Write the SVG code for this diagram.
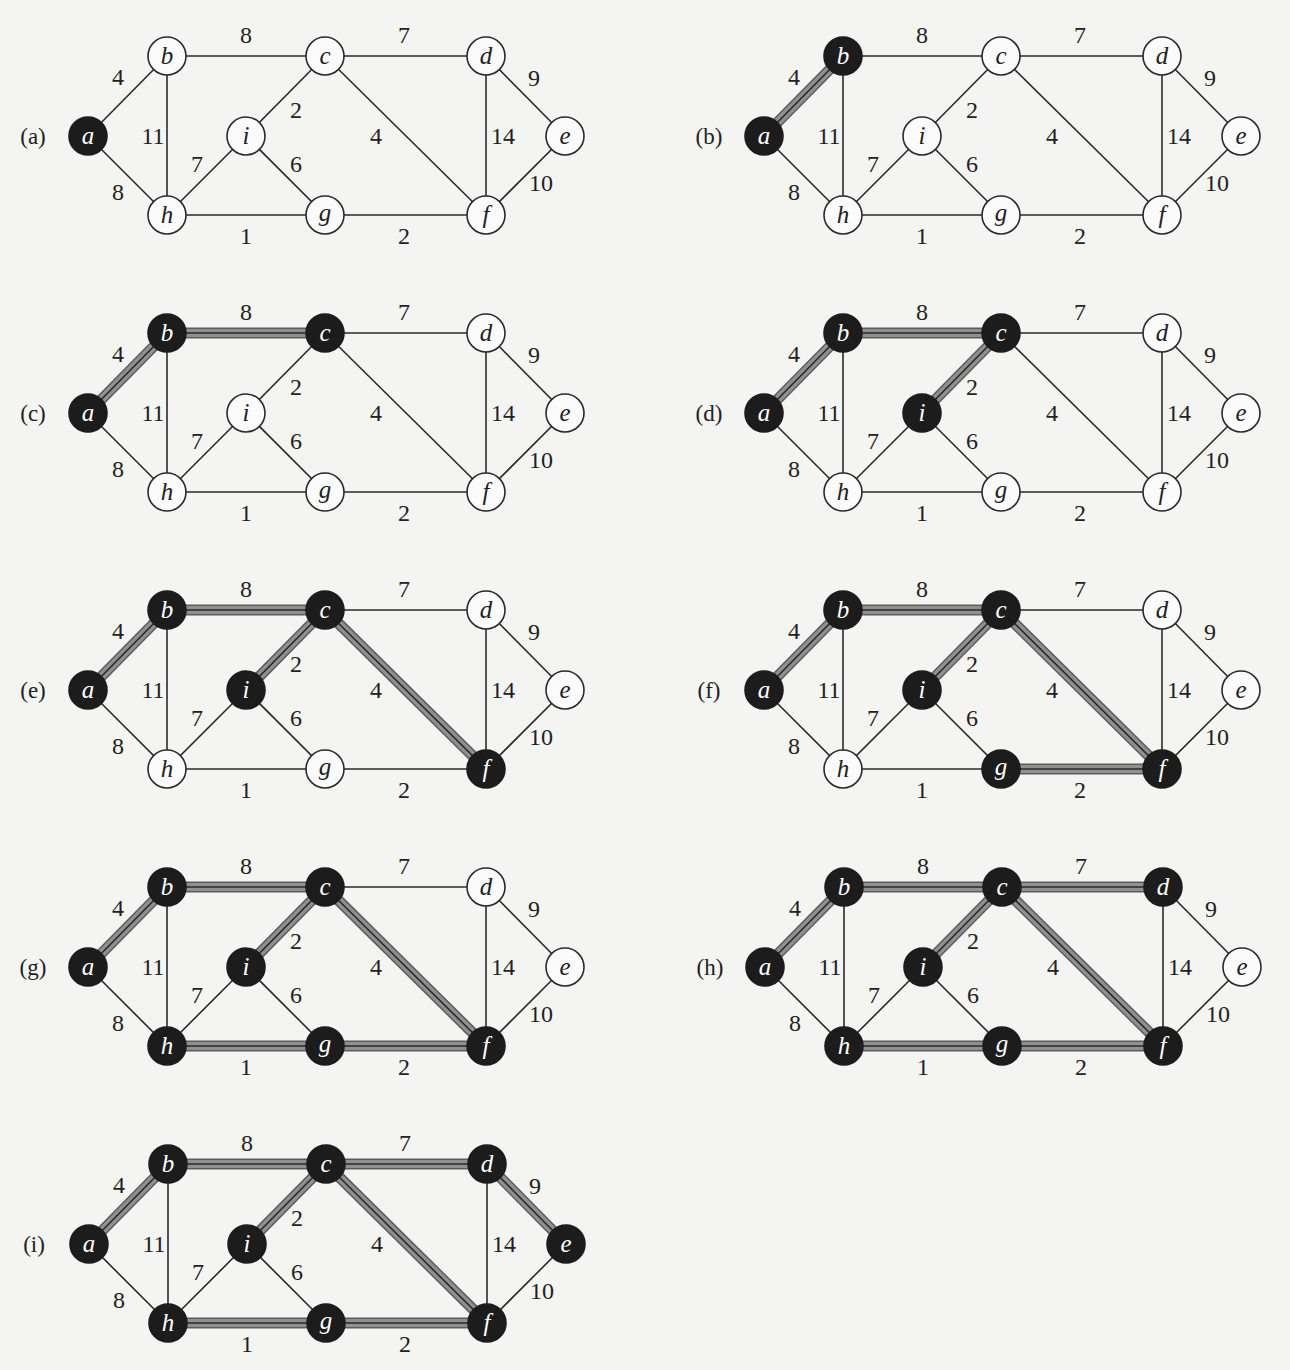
<svg xmlns="http://www.w3.org/2000/svg" xmlns:xlink="http://www.w3.org/1999/xlink" width="1290" height="1370" viewBox="0 0 1290 1370">
<style>
.e{stroke:#2a2a2a;stroke-width:1.6;fill:none}
.h1{stroke:#5c5c5c;stroke-width:11;stroke-linecap:butt;fill:none}
.h2{stroke:#909090;stroke-width:8;stroke-linecap:butt;fill:none}
.w{font-family:"Liberation Serif","Times New Roman",serif;font-size:24px;fill:#222;text-anchor:middle}
.p{font-family:"Liberation Serif","Times New Roman",serif;font-size:23px;fill:#222;text-anchor:middle}
.nw circle{fill:#fbfbfb;stroke:#2a2a2a;stroke-width:1.6}
.nb circle{fill:#1c1c1c;stroke:#1c1c1c;stroke-width:1.6}
.nw text,.nb text{font-family:"Liberation Serif","Times New Roman",serif;font-style:italic;font-size:25px;text-anchor:middle}
.nw text{fill:#222}
.nb text{fill:#ffffff}
</style>
<defs>
<g id="edges">
<line class="e" x1="88" y1="136" x2="167" y2="56"/>
<line class="e" x1="88" y1="136" x2="167" y2="215"/>
<line class="e" x1="167" y1="56" x2="325" y2="56"/>
<line class="e" x1="167" y1="56" x2="167" y2="215"/>
<line class="e" x1="325" y1="56" x2="486" y2="56"/>
<line class="e" x1="325" y1="56" x2="246" y2="136"/>
<line class="e" x1="325" y1="56" x2="486" y2="215"/>
<line class="e" x1="486" y1="56" x2="565" y2="136"/>
<line class="e" x1="486" y1="56" x2="486" y2="215"/>
<line class="e" x1="565" y1="136" x2="486" y2="215"/>
<line class="e" x1="486" y1="215" x2="325" y2="215"/>
<line class="e" x1="325" y1="215" x2="167" y2="215"/>
<line class="e" x1="325" y1="215" x2="246" y2="136"/>
<line class="e" x1="167" y1="215" x2="246" y2="136"/>
</g>
<g id="weights">
<text class="w" x="118" y="85">4</text>
<text class="w" x="246" y="43">8</text>
<text class="w" x="404" y="43">7</text>
<text class="w" x="534" y="86">9</text>
<text class="w" x="296" y="118">2</text>
<text class="w" x="153" y="144">11</text>
<text class="w" x="376" y="144">4</text>
<text class="w" x="503" y="144">14</text>
<text class="w" x="197" y="172">7</text>
<text class="w" x="296" y="172">6</text>
<text class="w" x="118" y="200">8</text>
<text class="w" x="541" y="191">10</text>
<text class="w" x="246" y="244">1</text>
<text class="w" x="404" y="244">2</text>
</g>
<g id="hab"><line class="h1" x1="88" y1="136" x2="167" y2="56"/><line class="h2" x1="88" y1="136" x2="167" y2="56"/></g>
<g id="hbc"><line class="h1" x1="167" y1="56" x2="325" y2="56"/><line class="h2" x1="167" y1="56" x2="325" y2="56"/></g>
<g id="hci"><line class="h1" x1="325" y1="56" x2="246" y2="136"/><line class="h2" x1="325" y1="56" x2="246" y2="136"/></g>
<g id="hcf"><line class="h1" x1="325" y1="56" x2="486" y2="215"/><line class="h2" x1="325" y1="56" x2="486" y2="215"/></g>
<g id="hfg"><line class="h1" x1="486" y1="215" x2="325" y2="215"/><line class="h2" x1="486" y1="215" x2="325" y2="215"/></g>
<g id="hgh"><line class="h1" x1="325" y1="215" x2="167" y2="215"/><line class="h2" x1="325" y1="215" x2="167" y2="215"/></g>
<g id="hcd"><line class="h1" x1="325" y1="56" x2="486" y2="56"/><line class="h2" x1="325" y1="56" x2="486" y2="56"/></g>
<g id="hde"><line class="h1" x1="486" y1="56" x2="565" y2="136"/><line class="h2" x1="486" y1="56" x2="565" y2="136"/></g>
</defs>
<rect x="0" y="0" width="1290" height="1370" fill="#f4f4f2"/>

<!-- (a) -->
<g id="panel-a">
<g id="connectors-a"><use xlink:href="#edges"/></g>
<use xlink:href="#weights"/>
<text class="p" x="33" y="144">(a)</text>
<g id="a-a" class="nb"><circle cx="88" cy="136" r="19"/><text x="88" y="144">a</text></g>
<g id="a-b" class="nw"><circle cx="167" cy="56" r="19"/><text x="167" y="64">b</text></g>
<g id="a-c" class="nw"><circle cx="325" cy="56" r="19"/><text x="325" y="64">c</text></g>
<g id="a-d" class="nw"><circle cx="486" cy="56" r="19"/><text x="486" y="64">d</text></g>
<g id="a-e" class="nw"><circle cx="565" cy="136" r="19"/><text x="565" y="144">e</text></g>
<g id="a-f" class="nw"><circle cx="486" cy="215" r="19"/><text x="486" y="223">f</text></g>
<g id="a-g" class="nw"><circle cx="325" cy="215" r="19"/><text x="325" y="221">g</text></g>
<g id="a-h" class="nw"><circle cx="167" cy="215" r="19"/><text x="167" y="223">h</text></g>
<g id="a-i" class="nw"><circle cx="246" cy="136" r="19"/><text x="246" y="144">i</text></g>
</g>

<!-- (b) -->
<g id="panel-b" transform="translate(676,0)">
<g id="connectors-b"><use xlink:href="#hab"/><use xlink:href="#edges"/></g>
<use xlink:href="#weights"/>
<text class="p" x="33" y="144">(b)</text>
<g id="b-a" class="nb"><circle cx="88" cy="136" r="19"/><text x="88" y="144">a</text></g>
<g id="b-b" class="nb"><circle cx="167" cy="56" r="19"/><text x="167" y="64">b</text></g>
<g id="b-c" class="nw"><circle cx="325" cy="56" r="19"/><text x="325" y="64">c</text></g>
<g id="b-d" class="nw"><circle cx="486" cy="56" r="19"/><text x="486" y="64">d</text></g>
<g id="b-e" class="nw"><circle cx="565" cy="136" r="19"/><text x="565" y="144">e</text></g>
<g id="b-f" class="nw"><circle cx="486" cy="215" r="19"/><text x="486" y="223">f</text></g>
<g id="b-g" class="nw"><circle cx="325" cy="215" r="19"/><text x="325" y="221">g</text></g>
<g id="b-h" class="nw"><circle cx="167" cy="215" r="19"/><text x="167" y="223">h</text></g>
<g id="b-i" class="nw"><circle cx="246" cy="136" r="19"/><text x="246" y="144">i</text></g>
</g>

<!-- (c) -->
<g id="panel-c" transform="translate(0,277)">
<g id="connectors-c"><use xlink:href="#hab"/><use xlink:href="#hbc"/><use xlink:href="#edges"/></g>
<use xlink:href="#weights"/>
<text class="p" x="33" y="144">(c)</text>
<g id="c-a" class="nb"><circle cx="88" cy="136" r="19"/><text x="88" y="144">a</text></g>
<g id="c-b" class="nb"><circle cx="167" cy="56" r="19"/><text x="167" y="64">b</text></g>
<g id="c-c" class="nb"><circle cx="325" cy="56" r="19"/><text x="325" y="64">c</text></g>
<g id="c-d" class="nw"><circle cx="486" cy="56" r="19"/><text x="486" y="64">d</text></g>
<g id="c-e" class="nw"><circle cx="565" cy="136" r="19"/><text x="565" y="144">e</text></g>
<g id="c-f" class="nw"><circle cx="486" cy="215" r="19"/><text x="486" y="223">f</text></g>
<g id="c-g" class="nw"><circle cx="325" cy="215" r="19"/><text x="325" y="221">g</text></g>
<g id="c-h" class="nw"><circle cx="167" cy="215" r="19"/><text x="167" y="223">h</text></g>
<g id="c-i" class="nw"><circle cx="246" cy="136" r="19"/><text x="246" y="144">i</text></g>
</g>

<!-- (d) -->
<g id="panel-d" transform="translate(676,277)">
<g id="connectors-d"><use xlink:href="#hab"/><use xlink:href="#hbc"/><use xlink:href="#hci"/><use xlink:href="#edges"/></g>
<use xlink:href="#weights"/>
<text class="p" x="33" y="144">(d)</text>
<g id="d-a" class="nb"><circle cx="88" cy="136" r="19"/><text x="88" y="144">a</text></g>
<g id="d-b" class="nb"><circle cx="167" cy="56" r="19"/><text x="167" y="64">b</text></g>
<g id="d-c" class="nb"><circle cx="325" cy="56" r="19"/><text x="325" y="64">c</text></g>
<g id="d-d" class="nw"><circle cx="486" cy="56" r="19"/><text x="486" y="64">d</text></g>
<g id="d-e" class="nw"><circle cx="565" cy="136" r="19"/><text x="565" y="144">e</text></g>
<g id="d-f" class="nw"><circle cx="486" cy="215" r="19"/><text x="486" y="223">f</text></g>
<g id="d-g" class="nw"><circle cx="325" cy="215" r="19"/><text x="325" y="221">g</text></g>
<g id="d-h" class="nw"><circle cx="167" cy="215" r="19"/><text x="167" y="223">h</text></g>
<g id="d-i" class="nb"><circle cx="246" cy="136" r="19"/><text x="246" y="144">i</text></g>
</g>

<!-- (e) -->
<g id="panel-e" transform="translate(0,554)">
<g id="connectors-e"><use xlink:href="#hab"/><use xlink:href="#hbc"/><use xlink:href="#hci"/><use xlink:href="#hcf"/><use xlink:href="#edges"/></g>
<use xlink:href="#weights"/>
<text class="p" x="33" y="144">(e)</text>
<g id="e-a" class="nb"><circle cx="88" cy="136" r="19"/><text x="88" y="144">a</text></g>
<g id="e-b" class="nb"><circle cx="167" cy="56" r="19"/><text x="167" y="64">b</text></g>
<g id="e-c" class="nb"><circle cx="325" cy="56" r="19"/><text x="325" y="64">c</text></g>
<g id="e-d" class="nw"><circle cx="486" cy="56" r="19"/><text x="486" y="64">d</text></g>
<g id="e-e" class="nw"><circle cx="565" cy="136" r="19"/><text x="565" y="144">e</text></g>
<g id="e-f" class="nb"><circle cx="486" cy="215" r="19"/><text x="486" y="223">f</text></g>
<g id="e-g" class="nw"><circle cx="325" cy="215" r="19"/><text x="325" y="221">g</text></g>
<g id="e-h" class="nw"><circle cx="167" cy="215" r="19"/><text x="167" y="223">h</text></g>
<g id="e-i" class="nb"><circle cx="246" cy="136" r="19"/><text x="246" y="144">i</text></g>
</g>

<!-- (f) -->
<g id="panel-f" transform="translate(676,554)">
<g id="connectors-f"><use xlink:href="#hab"/><use xlink:href="#hbc"/><use xlink:href="#hci"/><use xlink:href="#hcf"/><use xlink:href="#hfg"/><use xlink:href="#edges"/></g>
<use xlink:href="#weights"/>
<text class="p" x="33" y="144">(f)</text>
<g id="f-a" class="nb"><circle cx="88" cy="136" r="19"/><text x="88" y="144">a</text></g>
<g id="f-b" class="nb"><circle cx="167" cy="56" r="19"/><text x="167" y="64">b</text></g>
<g id="f-c" class="nb"><circle cx="325" cy="56" r="19"/><text x="325" y="64">c</text></g>
<g id="f-d" class="nw"><circle cx="486" cy="56" r="19"/><text x="486" y="64">d</text></g>
<g id="f-e" class="nw"><circle cx="565" cy="136" r="19"/><text x="565" y="144">e</text></g>
<g id="f-f" class="nb"><circle cx="486" cy="215" r="19"/><text x="486" y="223">f</text></g>
<g id="f-g" class="nb"><circle cx="325" cy="215" r="19"/><text x="325" y="221">g</text></g>
<g id="f-h" class="nw"><circle cx="167" cy="215" r="19"/><text x="167" y="223">h</text></g>
<g id="f-i" class="nb"><circle cx="246" cy="136" r="19"/><text x="246" y="144">i</text></g>
</g>

<!-- (g) -->
<g id="panel-g" transform="translate(0,831)">
<g id="connectors-g"><use xlink:href="#hab"/><use xlink:href="#hbc"/><use xlink:href="#hci"/><use xlink:href="#hcf"/><use xlink:href="#hfg"/><use xlink:href="#hgh"/><use xlink:href="#edges"/></g>
<use xlink:href="#weights"/>
<text class="p" x="33" y="144">(g)</text>
<g id="g-a" class="nb"><circle cx="88" cy="136" r="19"/><text x="88" y="144">a</text></g>
<g id="g-b" class="nb"><circle cx="167" cy="56" r="19"/><text x="167" y="64">b</text></g>
<g id="g-c" class="nb"><circle cx="325" cy="56" r="19"/><text x="325" y="64">c</text></g>
<g id="g-d" class="nw"><circle cx="486" cy="56" r="19"/><text x="486" y="64">d</text></g>
<g id="g-e" class="nw"><circle cx="565" cy="136" r="19"/><text x="565" y="144">e</text></g>
<g id="g-f" class="nb"><circle cx="486" cy="215" r="19"/><text x="486" y="223">f</text></g>
<g id="g-g" class="nb"><circle cx="325" cy="215" r="19"/><text x="325" y="221">g</text></g>
<g id="g-h" class="nb"><circle cx="167" cy="215" r="19"/><text x="167" y="223">h</text></g>
<g id="g-i" class="nb"><circle cx="246" cy="136" r="19"/><text x="246" y="144">i</text></g>
</g>

<!-- (h) -->
<g id="panel-h" transform="translate(677,831)">
<g id="connectors-h"><use xlink:href="#hab"/><use xlink:href="#hbc"/><use xlink:href="#hci"/><use xlink:href="#hcf"/><use xlink:href="#hfg"/><use xlink:href="#hgh"/><use xlink:href="#hcd"/><use xlink:href="#edges"/></g>
<use xlink:href="#weights"/>
<text class="p" x="33" y="144">(h)</text>
<g id="h-a" class="nb"><circle cx="88" cy="136" r="19"/><text x="88" y="144">a</text></g>
<g id="h-b" class="nb"><circle cx="167" cy="56" r="19"/><text x="167" y="64">b</text></g>
<g id="h-c" class="nb"><circle cx="325" cy="56" r="19"/><text x="325" y="64">c</text></g>
<g id="h-d" class="nb"><circle cx="486" cy="56" r="19"/><text x="486" y="64">d</text></g>
<g id="h-e" class="nw"><circle cx="565" cy="136" r="19"/><text x="565" y="144">e</text></g>
<g id="h-f" class="nb"><circle cx="486" cy="215" r="19"/><text x="486" y="223">f</text></g>
<g id="h-g" class="nb"><circle cx="325" cy="215" r="19"/><text x="325" y="221">g</text></g>
<g id="h-h" class="nb"><circle cx="167" cy="215" r="19"/><text x="167" y="223">h</text></g>
<g id="h-i" class="nb"><circle cx="246" cy="136" r="19"/><text x="246" y="144">i</text></g>
</g>

<!-- (i) -->
<g id="panel-i" transform="translate(1,1108)">
<g id="connectors-i"><use xlink:href="#hab"/><use xlink:href="#hbc"/><use xlink:href="#hci"/><use xlink:href="#hcf"/><use xlink:href="#hfg"/><use xlink:href="#hgh"/><use xlink:href="#hcd"/><use xlink:href="#hde"/><use xlink:href="#edges"/></g>
<use xlink:href="#weights"/>
<text class="p" x="33" y="144">(i)</text>
<g id="i-a" class="nb"><circle cx="88" cy="136" r="19"/><text x="88" y="144">a</text></g>
<g id="i-b" class="nb"><circle cx="167" cy="56" r="19"/><text x="167" y="64">b</text></g>
<g id="i-c" class="nb"><circle cx="325" cy="56" r="19"/><text x="325" y="64">c</text></g>
<g id="i-d" class="nb"><circle cx="486" cy="56" r="19"/><text x="486" y="64">d</text></g>
<g id="i-e" class="nb"><circle cx="565" cy="136" r="19"/><text x="565" y="144">e</text></g>
<g id="i-f" class="nb"><circle cx="486" cy="215" r="19"/><text x="486" y="223">f</text></g>
<g id="i-g" class="nb"><circle cx="325" cy="215" r="19"/><text x="325" y="221">g</text></g>
<g id="i-h" class="nb"><circle cx="167" cy="215" r="19"/><text x="167" y="223">h</text></g>
<g id="i-i" class="nb"><circle cx="246" cy="136" r="19"/><text x="246" y="144">i</text></g>
</g>
</svg>
